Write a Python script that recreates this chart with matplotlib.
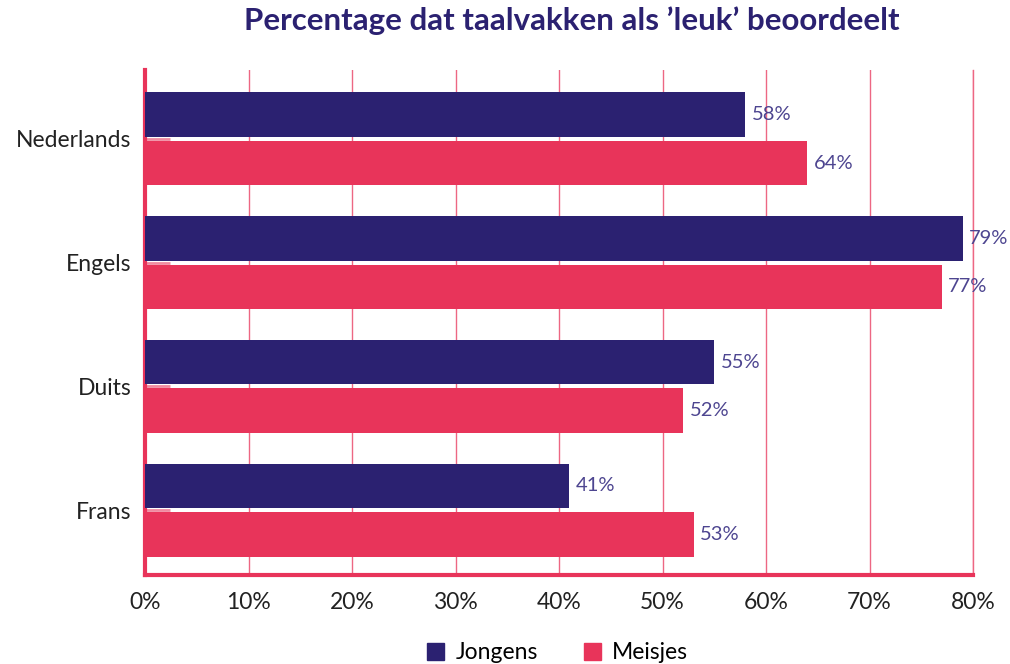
import numpy as np
import matplotlib.pyplot as plt
from matplotlib.patches import Patch

# data
vakken = ['Nederlands', 'Engels', 'Duits', 'Frans']
jongens = [58, 79, 55, 41]
meisjes = [64, 77, 52, 53]

navy = '#2b2171'
rood = '#e8345a'
label_kleur = '#4d4590'

plt.rcParams['font.family'] = ['Lato', 'DejaVu Sans']

fig = plt.figure(figsize=(10.1, 6.64), dpi=100)
ax = fig.add_axes([0.1436, 0.134, 0.8198, 0.7606])

y = np.arange(len(vakken))
h = 0.36
gap = 0.016
ax.barh(y - h/2 - gap, jongens, height=h, color=navy, zorder=3)
ax.barh(y + h/2 + gap, meisjes, height=h, color=rood, zorder=3)

for i in range(len(vakken)):
    ax.text(jongens[i] + 0.6, y[i] - h/2 - gap, f'{jongens[i]}%', va='center', ha='left',
            fontsize=14.5, color=label_kleur)
    ax.text(meisjes[i] + 0.6, y[i] + h/2 + gap, f'{meisjes[i]}%', va='center', ha='left',
            fontsize=14.5, color=label_kleur)

ax.set_xlim(0, 80)
ax.set_ylim(3.524, -0.556)
ax.set_xticks(range(0, 81, 10))
ax.set_xticklabels([f'{v}%' for v in range(0, 81, 10)], fontsize=16.5, color='#222222')
ax.set_yticks(y)
ax.set_yticklabels(vakken, fontsize=16.5, color='#222222')
ax.tick_params(axis='x', length=0, pad=12)
ax.tick_params(axis='y', length=18, width=2, color='#f08aa0', direction='in', pad=10)

ax.grid(axis='x', color=rood, linewidth=1, alpha=0.75, zorder=0)
# laatste gridlijn op de rand helemaal tonen
ax.axvline(80, color=rood, linewidth=1, alpha=0.75, zorder=0, clip_on=False)
for s in ['top', 'right']:
    ax.spines[s].set_visible(False)
ax.spines['left'].set_color(rood)
ax.spines['left'].set_linewidth(3)
ax.spines['bottom'].set_color(rood)
ax.spines['bottom'].set_linewidth(3)

fig.suptitle("Percentage dat taalvakken als \u2019leuk\u2019 beoordeelt", x=0.566, y=0.99,
             fontsize=22.5, fontweight='bold', color=navy)

handles = [Patch(color=navy, label='Jongens'), Patch(color=rood, label='Meisjes')]
fig.legend(handles=handles, loc='lower center', bbox_to_anchor=(0.552, -0.03), ncol=2,
           frameon=False, fontsize=16.5, handlelength=0.75, handleheight=0.75, columnspacing=2.0,
           handletextpad=0.5)

fig.savefig('out.png', dpi=100)
